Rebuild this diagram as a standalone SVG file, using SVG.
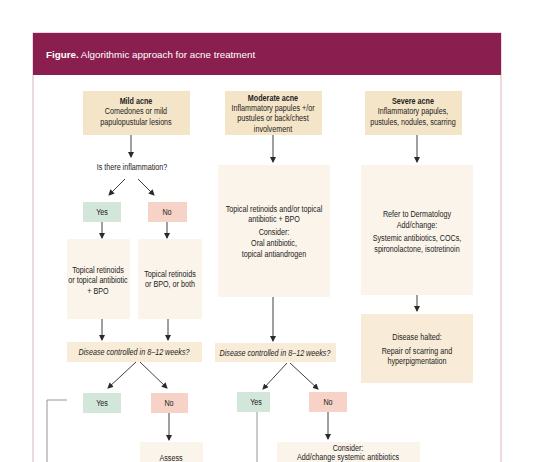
<svg xmlns="http://www.w3.org/2000/svg" width="534" height="462" viewBox="0 0 534 462">
<defs>
<marker id="ah" viewBox="0 0 6 6" refX="5" refY="3" markerWidth="6" markerHeight="6" orient="auto" markerUnits="userSpaceOnUse">
<path d="M0,0 L6,3 L0,6 z" fill="#2a2a2a"/>
</marker>
<style>
.t{font-family:"Liberation Sans",Arial,sans-serif;font-size:9px;fill:#222;text-anchor:middle}
.b{font-weight:bold}
.i{font-style:italic}
.dx{fill:#f5e5c8}
.lt{fill:#fbf4ea}
.q{fill:#f8ecd8}
.y{fill:#d3e6da}
.n{fill:#f6d3c6}
.c{stroke:#2a2a2a;stroke-width:0.9;fill:none}
.c2{stroke:#8a8a8a;stroke-width:0.9;fill:none}
.hd{font-family:"Liberation Sans",Arial,sans-serif;font-size:9.8px;fill:#fff}
</style>
</defs>
<rect width="534" height="462" fill="#fff"/>
<g id="frame">
<rect x="33" y="33" width="468" height="440" fill="#fff" stroke="#d9b3c3" stroke-width="1"/>
<rect x="33" y="33" width="468" height="42" fill="#8a1f4f"/>
<text class="hd" x="46" y="58"><tspan font-weight="bold">Figure.</tspan> Algorithmic approach for acne treatment</text>
</g>
<g id="connectors">
<line class="c" x1="131" y1="135" x2="131" y2="157" marker-end="url(#ah)"/>
<line class="c" x1="125" y1="179" x2="109" y2="195" marker-end="url(#ah)"/>
<line class="c" x1="138" y1="179" x2="154" y2="195" marker-end="url(#ah)"/>
<line class="c" x1="102" y1="222" x2="102" y2="238" marker-end="url(#ah)"/>
<line class="c" x1="167" y1="222" x2="167" y2="238" marker-end="url(#ah)"/>
<line class="c" x1="102" y1="319" x2="102" y2="340" marker-end="url(#ah)"/>
<line class="c" x1="168" y1="319" x2="168" y2="340" marker-end="url(#ah)"/>
<line class="c" x1="136" y1="362" x2="108" y2="388" marker-end="url(#ah)"/>
<line class="c" x1="140" y1="362" x2="167" y2="388" marker-end="url(#ah)"/>
<polyline class="c2" points="67,400 47,400 47,470"/>
<line class="c" x1="169" y1="413" x2="169" y2="440" marker-end="url(#ah)"/>
<line class="c" x1="273" y1="135" x2="273" y2="162" marker-end="url(#ah)"/>
<line class="c" x1="273" y1="297" x2="273" y2="341" marker-end="url(#ah)"/>
<line class="c" x1="287" y1="363" x2="263" y2="389" marker-end="url(#ah)"/>
<line class="c" x1="290" y1="363" x2="318" y2="389" marker-end="url(#ah)"/>
<line class="c2" x1="257" y1="412" x2="257" y2="470"/>
<line class="c" x1="328" y1="412" x2="328" y2="439" marker-end="url(#ah)"/>
<line class="c" x1="417" y1="135" x2="417" y2="162" marker-end="url(#ah)"/>
<line class="c" x1="417" y1="295" x2="417" y2="311" marker-end="url(#ah)"/>
</g>
<g id="mild">
<rect class="dx" x="83" y="91" width="107" height="44"/>
<g transform="scale(0.8,1)">
<text class="t b" x="170" y="104">Mild acne</text>
<text class="t" x="170" y="114.5">Comedones or mild</text>
<text class="t" x="170" y="125">papulopustular lesions</text>
</g>
</g>
<g id="inflammation-q">
<text class="t" transform="scale(0.8,1)" x="165" y="170">Is there inflammation?</text>
</g>
<g id="yes1"><rect class="y" x="83" y="202" width="38" height="20"/><text class="t" transform="scale(0.8,1)" x="127.5" y="215">Yes</text></g>
<g id="no1"><rect class="n" x="148" y="202" width="39" height="20"/><text class="t" transform="scale(0.8,1)" x="208.75" y="215">No</text></g>
<g id="treat-yes">
<rect class="lt" x="67" y="239" width="63" height="80"/>
<g transform="scale(0.8,1)">
<text class="t" x="122.5" y="273">Topical retinoids</text>
<text class="t" x="122.5" y="283.5">or topical antibiotic</text>
<text class="t" x="122.5" y="294">+ BPO</text>
</g>
</g>
<g id="treat-no">
<rect class="lt" x="138" y="239" width="64" height="80"/>
<g transform="scale(0.8,1)">
<text class="t" x="212.5" y="277">Topical retinoids</text>
<text class="t" x="212.5" y="287.5">or BPO, or both</text>
</g>
</g>
<g id="controlled1">
<rect class="q" x="67" y="342" width="135" height="20"/>
<text class="t i" transform="scale(0.8,1)" x="167.5" y="355">Disease controlled in 8–12 weeks?</text>
</g>
<g id="yes2"><rect class="y" x="83" y="393" width="38" height="20"/><text class="t" transform="scale(0.8,1)" x="127.5" y="406">Yes</text></g>
<g id="no2"><rect class="n" x="151" y="393" width="37" height="20"/><text class="t" transform="scale(0.8,1)" x="211.25" y="406">No</text></g>
<g id="assess">
<rect class="lt" x="140" y="442" width="63" height="30"/>
<text class="t" transform="scale(0.8,1)" x="213.75" y="461">Assess</text>
</g>
<g id="moderate">
<rect class="dx" x="225" y="91" width="97" height="44"/>
<g transform="scale(0.8,1)">
<text class="t b" x="341.25" y="101">Moderate acne</text>
<text class="t" x="341.25" y="111">Inflammatory papules +/or</text>
<text class="t" x="341.25" y="121.5">pustules or back/chest</text>
<text class="t" x="341.25" y="132">involvement</text>
</g>
</g>
<g id="treat-moderate">
<rect class="lt" x="218" y="165" width="112" height="132"/>
<g transform="scale(0.8,1)">
<text class="t" x="342.5" y="212">Topical retinoids and/or topical</text>
<text class="t" x="342.5" y="222.5">antibiotic + BPO</text>
<text class="t" x="342.5" y="235">Consider:</text>
<text class="t" x="342.5" y="246">Oral antibiotic,</text>
<text class="t" x="342.5" y="257">topical antiandrogen</text>
</g>
</g>
<g id="controlled2">
<rect class="q" x="215" y="343" width="121" height="19"/>
<text class="t i" transform="scale(0.8,1)" x="343.75" y="356">Disease controlled in 8–12 weeks?</text>
</g>
<g id="yes3"><rect class="y" x="237" y="392" width="33" height="20"/><text class="t" transform="scale(0.8,1)" x="320" y="405">Yes</text></g>
<g id="no3"><rect class="n" x="309" y="392" width="38" height="20"/><text class="t" transform="scale(0.8,1)" x="410" y="405">No</text></g>
<g id="consider">
<rect class="lt" x="277" y="442" width="143" height="30"/>
<g transform="scale(0.8,1)">
<text class="t" x="435" y="451">Consider:</text>
<text class="t" x="435" y="460">Add/change systemic antibiotics</text>
</g>
</g>
<g id="severe">
<rect class="dx" x="365" y="91" width="97" height="44"/>
<g transform="scale(0.8,1)">
<text class="t b" x="516.25" y="104">Severe acne</text>
<text class="t" x="516.25" y="114.5">Inflammatory papules,</text>
<text class="t" x="516.25" y="125">pustules, nodules, scarring</text>
</g>
</g>
<g id="refer">
<rect class="lt" x="361" y="165" width="112" height="130"/>
<g transform="scale(0.8,1)">
<text class="t" x="521.25" y="217">Refer to Dermatology</text>
<text class="t" x="521.25" y="228">Add/change:</text>
<text class="t" x="521.25" y="241">Systemic antibiotics, COCs,</text>
<text class="t" x="521.25" y="252">spironolactone, isotretinoin</text>
</g>
</g>
<g id="halted">
<rect class="q" x="361" y="314" width="112" height="69"/>
<g transform="scale(0.8,1)">
<text class="t" x="521.25" y="340">Disease halted:</text>
<text class="t" x="521.25" y="354">Repair of scarring and</text>
<text class="t" x="521.25" y="364">hyperpigmentation</text>
</g>
</g>
</svg>
